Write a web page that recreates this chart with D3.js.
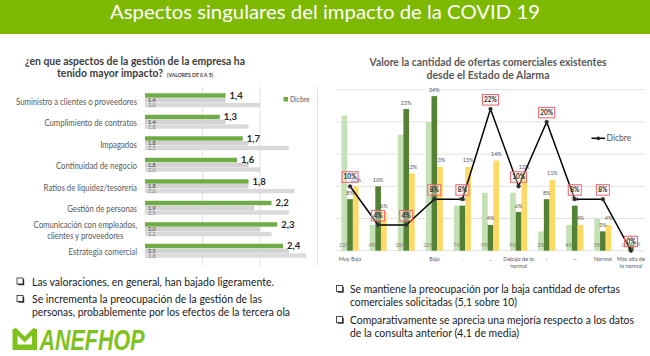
<!DOCTYPE html>
<html><head><meta charset="utf-8">
<script src="https://cdn.jsdelivr.net/npm/d3@7"></script>
<style>html,body{margin:0;padding:0;background:#fff}svg{display:block}</style>
</head><body>
<svg id="c" width="650" height="356"></svg>
<script>
// ---------- DATA ----------
const pageTitle = "Aspectos singulares del impacto de la COVID 19";

const leftTitle1 = "¿en que aspectos de la gestión de la empresa ha";
const leftTitle2 = "tenido mayor impacto?";
const leftTitleNote = "(VALORES DE 0 A 5)";
const leftCategories = [
  ["Suministro a clientes o proveedores"],
  ["Cumplimiento de contratos"],
  ["Impagados"],
  ["Continuidad de negocio"],
  ["Ratios de liquidez/tesorería"],
  ["Gestión de personas"],
  ["Comunicación con empleados,", "clientes y proveedores"],
  ["Estrategia comercial"]
];
const leftDicbre = [1.4, 1.3, 1.7, 1.6, 1.8, 2.2, 2.3, 2.4];
const leftPrev1  = [1.4, 1.4, 1.8, 1.8, 1.8, 1.9, 2.0, 2.5];
const leftPrev2  = [2.0, 1.8, 2.5, 2.0, 2.6, 2.5, 2.2, 2.8];
const leftTicks  = [1, 2, 3];
const leftLegend = "Dicbre";

const rightTitle1 = "Valore la cantidad de ofertas comerciales existentes";
const rightTitle2 = "desde el Estado de Alarma";
const rightCategories = [
  ["Muy Baja"], [""], [""], ["Baja"], ["."], [".."],
  ["Debajo de lo", "normal"], ["-"], ["--"], ["Normal"], ["Más alta de", "lo normal"]
];
const rightSeriesA = [21, 4, 18, 20, 7, 9, 9, 3, 4, 5, 0];     // light green
const rightSeriesB = [8, 10, 22, 24, 7, 4, 6, 8, 7, 3, 1];     // dark green
const rightSeriesC = [10, 6, 12, 13, 13, 14, 12, 11, 4, 4, 0]; // yellow
const rightDicbre  = [10, 4, 4, 8, 8, 22, 10, 20, 8, 8, 0];    // line
const rightTicks   = [0, 5, 10, 15, 20, 25];
const rightLegend  = "Dicbre";

const leftBullets = [
  ["Las valoraciones, en general, han bajado ligeramente."],
  ["Se incrementa la preocupación de la gestión de las", "personas, probablemente por los efectos de la tercera ola"]
];
const rightBullets = [
  ["Se mantiene la preocupación por la baja cantidad de ofertas", "comerciales solicitadas (5,1 sobre 10)"],
  ["Comparativamente se aprecia una mejoría respecto a los datos", "de la consulta anterior (4,1 de media)"]
];
const logoText = "ANEFHOP";

// ---------- HELPERS ----------
const FONT = "Lato, 'Open Sans', 'Liberation Sans', sans-serif";
const svg = d3.select("#c").style("font-family", FONT);
function fitW(sel, w) { return sel.attr("textLength", w).attr("lengthAdjust", "spacingAndGlyphs"); }
function squeeze(sel, k) {
  sel.each(function () {
    const L = this.getComputedTextLength();
    if (L > 0) d3.select(this).attr("textLength", L * k).attr("lengthAdjust", "spacingAndGlyphs");
  });
}
const pct = v => v + "%";
const dec = v => v.toFixed(1).replace(".", ",");

// ---------- HEADER ----------
svg.append("rect").attr("x", 0).attr("y", 0).attr("width", 650).attr("height", 34).attr("fill", "#7db900");
fitW(svg.append("text").text(pageTitle)
  .attr("x", 325).attr("y", 19).attr("text-anchor", "middle")
  .attr("fill", "#ffffff").style("font-size", "20px"), 430);

// ---------- LEFT CHART ----------
const gL = svg.append("g");
fitW(gL.append("text").text(leftTitle1).attr("x", 135).attr("y", 65).attr("text-anchor", "middle")
  .attr("fill", "#404040").style("font-size", "10.5px").style("font-weight", "bold"), 220);
fitW(gL.append("text").text(leftTitle2).attr("x", 57).attr("y", 77).attr("fill", "#404040")
  .style("font-size", "10.5px").style("font-weight", "bold"), 106);
fitW(gL.append("text").text(leftTitleNote).attr("x", 167).attr("y", 76.5).attr("fill", "#404040")
  .style("font-size", "4.6px").style("font-weight", "bold"), 46);

const xL = d3.scaleLinear().domain([0, 3]).range([145, 317.5]);
const yL = d3.scaleBand().domain(d3.range(leftCategories.length)).range([89.5, 261.5])
  .paddingInner(0.35).paddingOuter(0.175);
const subL = d3.scaleBand().domain(["dic", "p1", "p2"]).range([0, yL.bandwidth()]).paddingInner(0.08);

gL.selectAll("line.grid").data(leftTicks).join("line").attr("class", "grid")
  .attr("x1", d => xL(d)).attr("x2", d => xL(d)).attr("y1", 87).attr("y2", 266)
  .attr("stroke", "#d9d9d9").attr("stroke-width", 0.8);

const leftSeries = [
  { key: "p2", values: leftPrev2, color: "#d9d9d9" },
  { key: "p1", values: leftPrev1, color: "#d2d2d2" },
  { key: "dic", values: leftDicbre, color: "#6fac46" }
];
leftSeries.forEach(s => {
  gL.selectAll("rect.b" + s.key).data(s.values).join("rect").attr("class", "b" + s.key)
    .attr("x", xL(0)).attr("y", (d, i) => yL(i) + subL(s.key))
    .attr("width", d => xL(d) - xL(0)).attr("height", subL.bandwidth()).attr("fill", s.color);
});
// values
gL.selectAll("text.vdic").data(leftDicbre).join("text").attr("class", "vdic")
  .attr("x", d => xL(d) + 4).attr("y", (d, i) => yL(i) + subL("dic") + subL.bandwidth() / 2 + 3.2)
  .attr("fill", "#262626").style("font-size", "9.5px").style("font-weight", "bold").text(dec);
[["p1", leftPrev1, "#404040"], ["p2", leftPrev2, "#7f7f7f"]].forEach(([k, vals, c]) => {
  gL.selectAll("text.v" + k).data(vals).join("text").attr("class", "v" + k)
    .attr("x", xL(0) + 3).attr("y", (d, i) => yL(i) + subL(k) + subL.bandwidth() / 2 + 2)
    .attr("fill", c).style("font-size", "5.5px").text(dec);
});
// category labels
const catL = gL.selectAll("g.cat").data(leftCategories).join("g").attr("class", "cat");
const catTexts = [];
catL.each(function (lines, i) {
  const cy = yL(i) + 8.6;
  const g = d3.select(this);
  lines.forEach((ln, j) => {
    const t = g.append("text").text(ln)
      .attr("y", cy + (j - (lines.length - 1) / 2) * 11 + 3)
      .attr("fill", "#595959").style("font-size", "8.6px");
    catTexts.push(t);
  });
});
// scale labels to Calibri-like width (first label spans 121px)
const kL = 121 / catTexts[0].node().getComputedTextLength();
catL.each(function () {
  const ts = d3.select(this).selectAll("text");
  let maxW = 0;
  ts.each(function () { maxW = Math.max(maxW, this.getComputedTextLength() * kL); });
  ts.each(function () {
    const w = this.getComputedTextLength() * kL;
    d3.select(this).attr("text-anchor", "middle").attr("x", 137 - maxW / 2)
      .attr("textLength", w).attr("lengthAdjust", "spacingAndGlyphs");
  });
});
// legend
gL.append("rect").attr("x", 283.5).attr("y", 97).attr("width", 4.5).attr("height", 4.5).attr("fill", "#6fac46");
gL.append("text").text(leftLegend).attr("x", 290).attr("y", 101.5).attr("fill", "#595959").style("font-size", "6.8px");

// ---------- RIGHT CHART ----------
const gR = svg.append("g");
fitW(gR.append("text").text(rightTitle1).attr("x", 488).attr("y", 65.5).attr("text-anchor", "middle")
  .attr("fill", "#595959").style("font-size", "10.5px").style("font-weight", "bold"), 237);
fitW(gR.append("text").text(rightTitle2).attr("x", 488).attr("y", 78.5).attr("text-anchor", "middle")
  .attr("fill", "#595959").style("font-size", "10.5px").style("font-weight", "bold"), 123);

const xR = d3.scaleBand().domain(d3.range(rightCategories.length)).range([336, 645]);
const subR = d3.scaleBand().domain(["a", "b", "c"]).range([-8.5, 8.5]);
const yR = d3.scaleLinear().domain([0, 25]).range([250.7, 89.7]);
const cx = i => xR(i) + xR.bandwidth() / 2;

gR.selectAll("line.grid").data(rightTicks).join("line").attr("class", "grid")
  .attr("x1", 336).attr("x2", 645).attr("y1", d => yR(d)).attr("y2", d => yR(d))
  .attr("stroke", "#d9d9d9").attr("stroke-width", 0.8);

const rightSeries = [
  { key: "a", values: rightSeriesA, color: "#c5e0b4" },
  { key: "b", values: rightSeriesB, color: "#548235" },
  { key: "c", values: rightSeriesC, color: "#ffd966" }
];
rightSeries.forEach(s => {
  gR.selectAll("rect.b" + s.key).data(s.values).join("rect").attr("class", "b" + s.key)
    .attr("x", (d, i) => cx(i) + subR(s.key)).attr("y", d => yR(d))
    .attr("width", subR.bandwidth()).attr("height", d => yR(0) - yR(d)).attr("fill", s.color);
});
// bar labels
gR.selectAll("text.la").data(rightSeriesA).join("text").attr("class", "la")
  .attr("x", (d, i) => cx(i) + subR("a") + subR.bandwidth() / 2).attr("y", 247)
  .attr("text-anchor", "middle").attr("fill", "#7f7f7f").style("font-size", "5.5px").text(pct);
["b", "c"].forEach(k => {
  const vals = k === "b" ? rightSeriesB : rightSeriesC;
  gR.selectAll("text.l" + k).data(vals).join("text").attr("class", "l" + k)
    .attr("x", (d, i) => cx(i) + subR(k) + subR.bandwidth() / 2).attr("y", d => yR(d) - 4.5)
    .attr("text-anchor", "middle").attr("fill", "#595959").style("font-size", "5.5px").text(pct);
});
// line
const line = d3.line().x((d, i) => cx(i)).y(d => yR(d));
gR.append("path").datum(rightDicbre).attr("d", line).attr("fill", "none")
  .attr("stroke", "#000000").attr("stroke-width", 1.5);
gR.selectAll("circle.pt").data(rightDicbre).join("circle").attr("class", "pt")
  .attr("cx", (d, i) => cx(i)).attr("cy", d => yR(d)).attr("r", 1.9)
  .attr("fill", "#262626").attr("stroke", "#595959").attr("stroke-width", 0.5);
// boxed labels
const boxG = gR.selectAll("g.box").data(rightDicbre).join("g").attr("class", "box");
boxG.each(function (d, i) {
  const g = d3.select(this);
  const w = String(d).length > 1 ? 16 : 13;
  g.append("rect").attr("x", cx(i) - w / 2).attr("y", yR(d) - 14.5).attr("width", w).attr("height", 10.5)
    .attr("fill", "rgba(255,255,255,0.35)").attr("stroke", "#f0616b").attr("stroke-width", 1);
  g.append("text").text(pct(d)).attr("x", cx(i)).attr("y", yR(d) - 7)
    .attr("text-anchor", "middle").attr("fill", "#262626")
    .style("font-size", "6.5px").style("font-weight", "bold");
});
// x labels
const xlab = gR.selectAll("g.xl").data(rightCategories).join("g").attr("class", "xl");
xlab.each(function (lines, i) {
  const g = d3.select(this);
  lines.forEach((ln, j) => {
    g.append("text").text(ln).attr("x", cx(i)).attr("y", 260.5 + j * 7.5)
      .attr("text-anchor", "middle").attr("fill", "#595959").style("font-size", "6px");
  });
});
const refLab = xlab.filter((d, i) => i === 6).select("text").node();
const kR = 30.7 / refLab.getComputedTextLength();
squeeze(xlab.selectAll("text"), kR);
// legend
gR.append("line").attr("x1", 591.5).attr("x2", 605).attr("y1", 138.3).attr("y2", 138.3)
  .attr("stroke", "#000").attr("stroke-width", 1.5);
gR.append("circle").attr("cx", 598.3).attr("cy", 138.3).attr("r", 1.9).attr("fill", "#262626");
gR.append("text").text(rightLegend).attr("x", 606.5).attr("y", 141.3).attr("fill", "#595959").style("font-size", "8.5px");

// ---------- BULLETS ----------
function bullet(x, y) {
  svg.append("rect").attr("x", x + 1.2).attr("y", y - 6.3).attr("width", 6).attr("height", 6).attr("fill", "#262626");
  svg.append("rect").attr("x", x).attr("y", y - 7.5).attr("width", 6).attr("height", 6)
    .attr("fill", "#fff").attr("stroke", "#262626").attr("stroke-width", 0.8);
}
const leftBulletLayout = [{ ys: [285.5], ws: [242] }, { ys: [303, 316], ws: [230, 258] }];
leftBullets.forEach((lines, b) => {
  bullet(17, leftBulletLayout[b].ys[0]);
  lines.forEach((ln, j) => {
    fitW(svg.append("text").text(ln).attr("x", 32).attr("y", leftBulletLayout[b].ys[j])
      .attr("fill", "#1a1a1a").style("font-size", "11px"), leftBulletLayout[b].ws[j]);
  });
});
const rightBulletLayout = [{ ys: [293, 306], ws: [270, 167] }, { ys: [324, 336.5], ws: [284, 169] }];
rightBullets.forEach((lines, b) => {
  bullet(336.5, rightBulletLayout[b].ys[0]);
  lines.forEach((ln, j) => {
    fitW(svg.append("text").text(ln).attr("x", 350).attr("y", rightBulletLayout[b].ys[j])
      .attr("fill", "#1a1a1a").style("font-size", "11px"), rightBulletLayout[b].ws[j]);
  });
});

// ---------- LOGO ----------
const logoG = svg.append("g").attr("fill", "#80c21d");
logoG.append("path").attr("d", "M12.5,329 h5 v15.5 h14.5 v-15.5 h5 v21 h-24.5 z");
logoG.append("path").attr("d", "M14,329 L24.75,339.5 L35.5,329").attr("fill", "none")
  .attr("stroke", "#80c21d").attr("stroke-width", 4.2);
fitW(logoG.append("text").text(logoText).attr("x", 39.5).attr("y", 349.5)
  .style("font-family", "'Liberation Sans', Arial, sans-serif").style("font-size", "29px")
  .style("font-weight", "bold").style("font-style", "italic"), 105);
</script>
</body></html>
